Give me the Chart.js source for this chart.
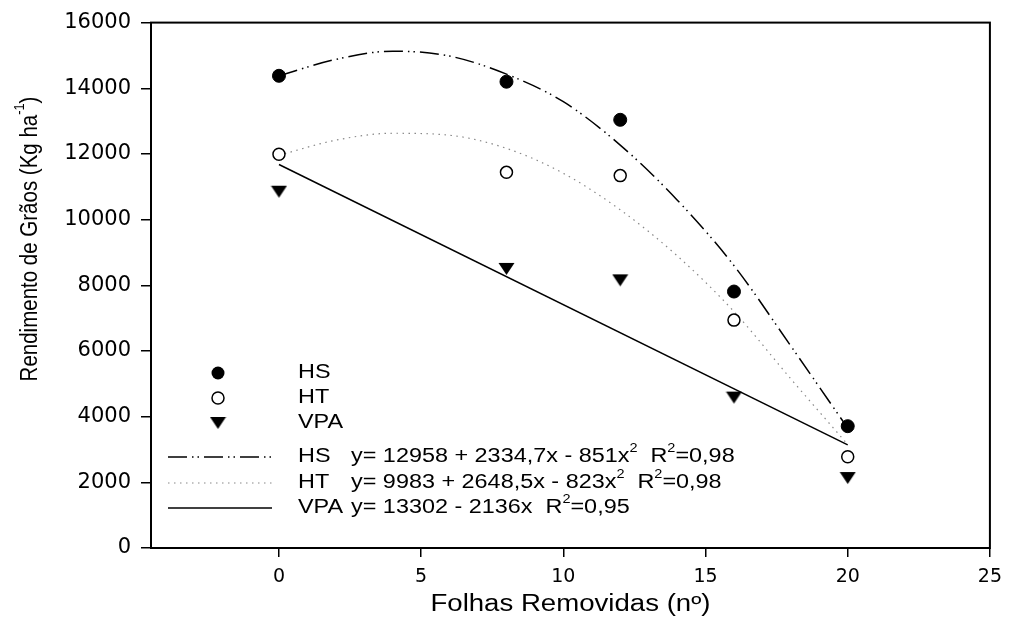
<!DOCTYPE html>
<html>
<head>
<meta charset="utf-8">
<script src="https://cdn.jsdelivr.net/npm/chart.js@4.4.1/dist/chart.umd.min.js"></script>
<style>
  html, body { margin: 0; padding: 0; background: #fff; }
</style>
</head>
<body>
<canvas id="chart" width="1011" height="637"></canvas>
<script>
// observed yields (kg/ha) at each number of removed leaves
const xObs = [0, 8, 12, 16, 20];
const hsObs = [14380, 14200, 13040, 7810, 3710];
const htObs = [11990, 11440, 11340, 6940, 2780];
const vpaObs = [10850, 8500, 8150, 4580, 2130];

// fitted curves
const xFit = [0, 2, 4, 6, 8, 10, 12, 14, 16, 18, 20];
const hsFit = [14380, 14880, 15130, 14980, 14430, 13590, 12270, 10600, 8600, 6150, 3650];
const htFit = [11960, 12420, 12630, 12570, 12170, 11410, 10300, 8900, 7200, 5150, 3150];
const xVpaFit = [0, 20];
const vpaFit = [11680, 3140];

const xTicks = [0, 5, 10, 15, 20, 25];
const yTicks = [0, 2000, 4000, 6000, 8000, 10000, 12000, 14000, 16000];

const FONT = 'Liberation Sans, Arial, sans-serif';
const TICKFONT = 'DejaVu Sans, sans-serif';
const STRETCH = 1.2; // the figure's text is wider than plain Arial

const pts = (xs, ys) => xs.map((x, i) => ({ x: x, y: ys[i] }));

// down-pointing triangle marker, centred on its bounding box
const tri = document.createElement('canvas');
tri.width = 17; tri.height = 14;
(() => {
  const c = tri.getContext('2d');
  c.fillStyle = '#000';
  c.beginPath();
  c.moveTo(0.5, 1); c.lineTo(16.5, 1); c.lineTo(8.5, 13); c.closePath();
  c.fill();
})();

const hsDash = [19, 5, 1.5, 4, 1.5, 5];
const htDash = [1.5, 4.5];

// draws text with superscripts, returns width
function richText(ctx, parts, x, y, size) {
  let cx = x;
  parts.forEach(([t, sup]) => {
    ctx.font = (sup ? size * 0.62 : size) + 'px ' + FONT;
    ctx.fillText(t, cx, sup ? y - size * 0.42 : y);
    cx += ctx.measureText(t).width;
  });
  return cx - x;
}

function richWidth(ctx, parts, size) {
  let w = 0;
  parts.forEach(([t, sup]) => {
    ctx.font = (sup ? size * 0.62 : size) + 'px ' + FONT;
    w += ctx.measureText(t).width;
  });
  return w;
}

// horizontal text, stretched sideways
function wideText(ctx, parts, x, y, size, align) {
  ctx.save();
  ctx.translate(x, y);
  ctx.scale(STRETCH, 1);
  const w = richWidth(ctx, parts, size);
  richText(ctx, parts, align === 'center' ? -w / 2 : 0, 0, size);
  ctx.restore();
}

const decorations = {
  id: 'decorations',
  afterDraw(chart) {
    const ctx = chart.ctx;
    const a = chart.chartArea;
    ctx.save();
    ctx.strokeStyle = '#000';
    ctx.lineWidth = 2;
    ctx.strokeRect(a.left, a.top, a.right - a.left, a.bottom - a.top);

    ctx.fillStyle = '#000';
    ctx.textBaseline = 'middle';
    ctx.textAlign = 'left';

    // axis titles
    wideText(ctx, [['Folhas Removidas (nº)', false]], (a.left + a.right) / 2, 605, 23, 'center');

    const yt = [['Rendimento de Grãos (Kg ha', false], ['-1', true], [')', false]];
    ctx.save();
    ctx.translate(30, 239);
    ctx.rotate(-Math.PI / 2);
    ctx.scale(1, STRETCH);
    const ys = 20.5;
    const yw = richWidth(ctx, yt, ys);
    richText(ctx, yt, -yw / 2, 0, ys);
    ctx.restore();

    // legend
    const ls = 19.5;
    const mx = 218, tx = 298, ex = 351;
    const rows = [373, 398, 423, 457, 483, 508];

    ctx.beginPath();
    ctx.arc(mx, rows[0], 6.5, 0, Math.PI * 2);
    ctx.fill();
    ctx.beginPath();
    ctx.arc(mx, rows[1], 6, 0, Math.PI * 2);
    ctx.lineWidth = 1.5;
    ctx.stroke();
    ctx.drawImage(tri, mx - 8.5, rows[2] - 7);

    ctx.lineWidth = 1.5;
    ctx.strokeStyle = '#000';
    ctx.setLineDash(hsDash);
    ctx.beginPath(); ctx.moveTo(168, rows[3]); ctx.lineTo(272, rows[3]); ctx.stroke();
    ctx.strokeStyle = '#888';
    ctx.lineWidth = 1.2;
    ctx.setLineDash(htDash);
    ctx.beginPath(); ctx.moveTo(168, rows[4]); ctx.lineTo(272, rows[4]); ctx.stroke();
    ctx.strokeStyle = '#000';
    ctx.lineWidth = 1.5;
    ctx.setLineDash([]);
    ctx.beginPath(); ctx.moveTo(168, rows[5]); ctx.lineTo(272, rows[5]); ctx.stroke();

    wideText(ctx, [['HS', false]], tx, rows[0], ls);
    wideText(ctx, [['HT', false]], tx, rows[1], ls);
    wideText(ctx, [['VPA', false]], tx, rows[2], ls);
    wideText(ctx, [['HS', false]], tx, rows[3], ls);
    wideText(ctx, [['y= 12958 + 2334,7x - 851x', false], ['2', true], ['  R', false], ['2', true], ['=0,98', false]], ex, rows[3], ls);
    wideText(ctx, [['HT', false]], tx, rows[4], ls);
    wideText(ctx, [['y= 9983 + 2648,5x - 823x', false], ['2', true], ['  R', false], ['2', true], ['=0,98', false]], ex, rows[4], ls);
    wideText(ctx, [['VPA', false]], tx, rows[5], ls);
    wideText(ctx, [['y= 13302 - 2136x  R', false], ['2', true], ['=0,95', false]], ex, rows[5], ls);
    ctx.restore();
  }
};

new Chart(document.getElementById('chart'), {
  type: 'scatter',
  data: {
    datasets: [
      { label: 'HS', data: pts(xObs, hsObs), pointStyle: 'circle', pointRadius: 6.5,
        backgroundColor: '#000', borderColor: '#000', borderWidth: 1, order: 1 },
      { label: 'HT', data: pts(xObs, htObs), pointStyle: 'circle', pointRadius: 6,
        backgroundColor: '#fff', borderColor: '#000', borderWidth: 1.5, order: 1 },
      { label: 'VPA', data: pts(xObs, vpaObs), pointStyle: tri, order: 1 },
      { label: 'HS fit', type: 'line', data: pts(xFit, hsFit), showLine: true, pointRadius: 0,
        borderColor: '#000', borderWidth: 1.5, borderDash: hsDash, cubicInterpolationMode: 'monotone', fill: false, order: 2 },
      { label: 'HT fit', type: 'line', data: pts(xFit, htFit), showLine: true, pointRadius: 0,
        borderColor: '#888', borderWidth: 1.2, borderDash: htDash, cubicInterpolationMode: 'monotone', fill: false, order: 2 },
      { label: 'VPA fit', type: 'line', data: pts(xVpaFit, vpaFit), showLine: true, pointRadius: 0,
        borderColor: '#000', borderWidth: 1.5, fill: false, order: 2 }
    ]
  },
  options: {
    responsive: false,
    animation: false,
    devicePixelRatio: 1,
    layout: { padding: { left: 0, top: 18, right: 18, bottom: 0 } },
    plugins: { legend: { display: false }, tooltip: { enabled: false } },
    scales: {
      x: {
        type: 'linear', min: -4.5, max: 25,
        afterBuildTicks: s => { s.ticks = xTicks.map(v => ({ value: v })); },
        afterFit: s => { s.height = 89; },
        ticks: { color: '#000', font: { family: TICKFONT, size: 19 }, padding: 9, callback: v => String(v) },
        grid: { drawOnChartArea: false, color: '#000', lineWidth: 1.5, tickLength: 9 },
        border: { display: false }
      },
      y: {
        min: 0, max: 16000,
        afterBuildTicks: s => { s.ticks = yTicks.map(v => ({ value: v })); },
        afterFit: s => { s.width = 151; },
        ticks: { color: '#000', font: { family: TICKFONT, size: 21 }, padding: 10, callback: v => String(v) },
        grid: { drawOnChartArea: false, color: '#000', lineWidth: 1.5, tickLength: 10 },
        border: { display: false }
      }
    }
  },
  plugins: [decorations]
});
</script>
</body>
</html>
